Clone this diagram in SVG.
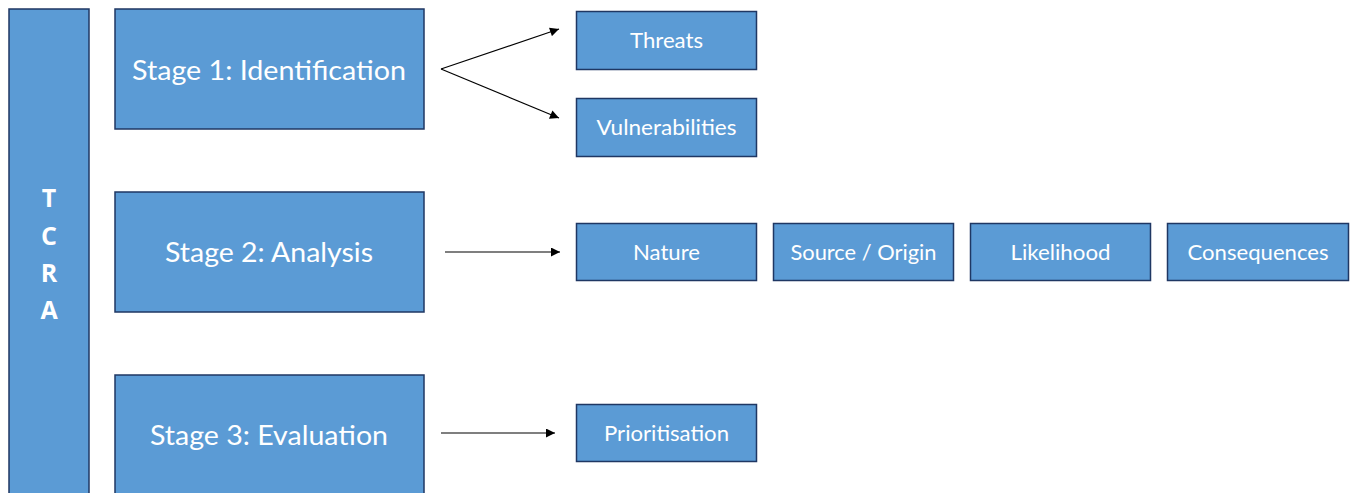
<svg xmlns="http://www.w3.org/2000/svg" width="1355" height="493" viewBox="0 0 1355 493">
<style>
.box{fill:#5B9BD5;stroke:#1F3763;stroke-width:1.5}
.big{font-family:Lato,"Open Sans",sans-serif;font-size:27px;fill:#fff;text-anchor:middle}
.sm{font-family:Lato,"Open Sans",sans-serif;font-size:21px;fill:#fff;text-anchor:middle}
.tc{font-family:"Open Sans",Lato,sans-serif;font-weight:bold;font-size:25px;fill:#fff;text-anchor:middle}
.con{stroke:#000;stroke-width:1.2;fill:none;marker-end:url(#ah)}
</style>
<defs>
<marker id="ah" viewBox="0 0 10 10" refX="10" refY="5" markerWidth="11" markerHeight="9" markerUnits="userSpaceOnUse" orient="auto">
<path d="M0,0 L10,5 L0,10 z" fill="#000"/>
</marker>
</defs>
<rect width="1355" height="493" fill="#fff"/>
<g id="tcra">
<rect class="box" x="9" y="9" width="80" height="500"/>
<text class="tc" x="49" y="207">T</text>
<text class="tc" x="49" y="245">C</text>
<text class="tc" x="49" y="282">R</text>
<text class="tc" x="49" y="319">A</text>
</g>
<g id="stage1">
<rect class="box" x="115" y="9" width="309" height="120"/>
<text class="big" x="269" y="80" textLength="274" lengthAdjust="spacingAndGlyphs">Stage 1: Identification</text>
</g>
<g id="stage2">
<rect class="box" x="115" y="192" width="309" height="120"/>
<text class="big" x="269" y="262" textLength="208" lengthAdjust="spacingAndGlyphs">Stage 2: Analysis</text>
</g>
<g id="stage3">
<rect class="box" x="115" y="375" width="309" height="130"/>
<text class="big" x="269" y="445" textLength="238" lengthAdjust="spacingAndGlyphs">Stage 3: Evaluation</text>
</g>
<g id="threats">
<rect class="box" x="576.5" y="11.5" width="180" height="58"/>
<text class="sm" x="666.5" y="48" textLength="73" lengthAdjust="spacingAndGlyphs">Threats</text>
</g>
<g id="vulnerabilities">
<rect class="box" x="576.5" y="98.5" width="180" height="58"/>
<text class="sm" x="666.5" y="135" textLength="140" lengthAdjust="spacingAndGlyphs">Vulnerabilities</text>
</g>
<g id="nature">
<rect class="box" x="576.5" y="223.5" width="180" height="57"/>
<text class="sm" x="666.5" y="260" textLength="67" lengthAdjust="spacingAndGlyphs">Nature</text>
</g>
<g id="source">
<rect class="box" x="773.5" y="223.5" width="180" height="57"/>
<text class="sm" x="863.5" y="260" textLength="146" lengthAdjust="spacingAndGlyphs">Source / Origin</text>
</g>
<g id="likelihood">
<rect class="box" x="970.5" y="223.5" width="180" height="57"/>
<text class="sm" x="1060.5" y="260" textLength="100" lengthAdjust="spacingAndGlyphs">Likelihood</text>
</g>
<g id="consequences">
<rect class="box" x="1167.5" y="223.5" width="181" height="57"/>
<text class="sm" x="1258" y="260" textLength="141" lengthAdjust="spacingAndGlyphs">Consequences</text>
</g>
<g id="prioritisation">
<rect class="box" x="576.5" y="404.5" width="180" height="57"/>
<text class="sm" x="666.5" y="441" textLength="125" lengthAdjust="spacingAndGlyphs">Prioritisation</text>
</g>
<g id="connectors">
<line class="con" x1="441" y1="69" x2="559" y2="29"/>
<line class="con" x1="441" y1="69" x2="559" y2="118"/>
<line class="con" x1="445" y1="252" x2="560" y2="252"/>
<line class="con" x1="441" y1="433" x2="555" y2="433"/>
</g>
</svg>
